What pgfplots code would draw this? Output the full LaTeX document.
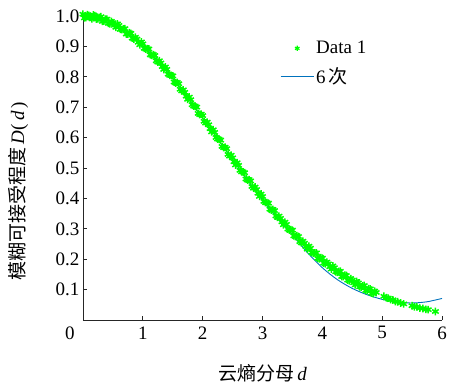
\documentclass[border=0pt]{standalone}
\usepackage{fontspec}
\setmainfont{Liberation Serif}
\newfontfamily\cjk{Noto Sans CJK SC}
\usepackage{pgfplots}
\pgfplotsset{compat=1.18}
\definecolor{mgreen}{rgb}{0,1,0}
\definecolor{mblue}{rgb}{0,0.447,0.741}
\definecolor{axgray}{rgb}{0.15,0.15,0.15}
\newcommand{\fs}{\fontsize{19}{22}\selectfont}
\pgfplotsset{
  dataleg/.style={legend image code/.code={\path[draw=none] (0pt,0pt) -- (33pt,0pt); \draw[##1, mark size=2.6pt, line width=1.2pt] plot[only marks] coordinates {(16.5pt,0pt)};}},
  lineleg/.style={legend image code/.code={\draw[##1] (0pt,0pt) -- (33pt,0pt);}},
  datastyle/.style={only marks, mark=asterisk, mark size=3.8pt, color=mgreen, line width=1.5pt},
}
\begin{document}
\begin{tikzpicture}[font=\fs]
\useasboundingbox (-83pt,-64pt) rectangle (366pt,320pt);
\begin{axis}[
  scale only axis, width=359pt, height=307pt,
  xmin=0, xmax=6, ymin=0, ymax=1.01,
  axis x line=bottom, axis y line=left,
  axis line style={-, draw=axgray, line width=0.8pt},
  xtick={0,1,2,3,4,5,6},
  xticklabels={\makebox[0pt][r]{0\hspace{8.5pt}},1,2,3,4,5,6},
  ytick={0.1,0.2,0.3,0.4,0.5,0.6,0.7,0.8,0.9,1.0},
  yticklabel style={/pgf/number format/.cd, fixed, fixed zerofill, precision=1},
  /pgf/number format/assume math mode=true,
  tick align=inside, major tick length=4pt,
  tick style={draw=axgray, line width=0.8pt},
  tick label style={font=\fs, text=black},
  xticklabel style={yshift=-3pt},
  xlabel={{\cjk 云熵分母}\,\textit{d}},
  ylabel={{\cjk 模糊可接受程度}\,\textit{D}(\,\textit{d}\,)},
  xlabel style={at={(axis description cs:0.5,-0.172)}, anchor=center, font=\fs},
  ylabel style={at={(axis description cs:-0.181,0.42)}, anchor=center, font=\fs},
  legend style={at={(0.549,0.915)}, anchor=north west, draw=none, fill=none,
    font=\fs, row sep=8pt, inner sep=0pt, nodes={inner sep=2pt}, cells={anchor=west}},
]
\addplot[datastyle, dataleg]
  coordinates {
(0.00,1.0060) (0.05,0.9948) (0.10,1.0020) (0.15,0.9907) (0.20,1.0010)
(0.25,0.9907) (0.30,0.9979) (0.35,0.9837) (0.40,0.9899) (0.45,0.9747)
(0.50,0.9780) (0.55,0.9628) (0.60,0.9692) (0.65,0.9551) (0.70,0.9585)
(0.75,0.9406) (0.80,0.9432) (0.85,0.9243) (0.90,0.9241) (0.95,0.9055)
(1.00,0.9086) (1.05,0.8912) (1.10,0.8915) (1.15,0.8705) (1.20,0.8701)
(1.25,0.8485) (1.30,0.8455) (1.35,0.8242) (1.40,0.8247) (1.45,0.8050)
(1.50,0.8030) (1.55,0.7798) (1.60,0.7773) (1.65,0.7537) (1.70,0.7490)
(1.75,0.7260) (1.80,0.7249) (1.85,0.7037) (1.90,0.7004) (1.95,0.6760)
(2.00,0.6725) (2.05,0.6480) (2.10,0.6424) (2.15,0.6188) (2.20,0.6171)
(2.25,0.5954) (2.30,0.5918) (2.35,0.5672) (2.40,0.5636) (2.45,0.5390)
(2.50,0.5335) (2.55,0.5101) (2.60,0.5088) (2.65,0.4876) (2.70,0.4844)
(2.75,0.4604) (2.80,0.4575) (2.85,0.4338) (2.90,0.4292) (2.95,0.4067)
(3.00,0.4064) (3.05,0.3863) (3.10,0.3843) (3.15,0.3615) (3.20,0.3600)
(3.25,0.3376) (3.30,0.3344) (3.35,0.3134) (3.40,0.3146) (3.45,0.2961)
(3.50,0.2957) (3.55,0.2746) (3.60,0.2746) (3.65,0.2539) (3.70,0.2525)
(3.75,0.2332) (3.80,0.2362) (3.85,0.2194) (3.90,0.2208) (3.95,0.2015)
(4.00,0.2034) (4.05,0.1845) (4.10,0.1848) (4.15,0.1673) (4.20,0.1721)
(4.25,0.1571) (4.30,0.1603) (4.35,0.1428) (4.40,0.1464) (4.45,0.1292)
(4.50,0.1313) (4.55,0.1155) (4.60,0.1220) (4.65,0.1086) (4.70,0.1134)
(4.75,0.0974) (4.80,0.1026) (4.85,0.0871) (4.90,0.0906)
(5.03,0.078) (5.07,0.073) (5.10,0.072) (5.14,0.067) (5.18,0.066)
(5.22,0.061) (5.26,0.060) (5.31,0.056) (5.36,0.053)
(5.50,0.047) (5.54,0.043) (5.58,0.043) (5.63,0.039) (5.68,0.038)
(5.73,0.035) (5.77,0.034) (5.89,0.028)
  };
\addlegendentry{Data 1}
\addplot[datastyle, forget plot]
  coordinates {
(0.025,0.9939) (0.075,1.0044) (0.125,0.9954) (0.175,1.0038) (0.225,0.9898)
(0.275,0.9953) (0.325,0.9823) (0.375,0.9898) (0.425,0.9758) (0.475,0.9823)
(0.525,0.9694) (0.575,0.9740) (0.625,0.9561) (0.675,0.9578) (0.725,0.9410)
(0.775,0.9449) (0.825,0.9272) (0.875,0.9302) (0.925,0.9138) (0.975,0.9150)
(1.025,0.8939) (1.075,0.8924) (1.125,0.8725) (1.175,0.8733) (1.225,0.8528)
(1.275,0.8530) (1.325,0.8339) (1.375,0.8325) (1.425,0.8089) (1.475,0.8050)
(1.525,0.7829) (1.575,0.7816) (1.625,0.7590) (1.675,0.7573) (1.725,0.7365)
(1.775,0.7335) (1.825,0.7083) (1.875,0.7031) (1.925,0.6797) (1.975,0.6773)
(2.025,0.6537) (2.075,0.6512) (2.125,0.6296) (2.175,0.6259) (2.225,0.6003)
(2.275,0.5946) (2.325,0.5710) (2.375,0.5684) (2.425,0.5448) (2.475,0.5423)
(2.525,0.5208) (2.575,0.5175) (2.625,0.4922) (2.675,0.4870) (2.725,0.4639)
(2.775,0.4620) (2.825,0.4392) (2.875,0.4375) (2.925,0.4169) (2.975,0.4146)
(3.025,0.3903) (3.075,0.3863) (3.125,0.3644) (3.175,0.3638) (3.225,0.3423)
(3.275,0.3420) (3.325,0.3229) (3.375,0.3220) (3.425,0.2993) (3.475,0.2969)
(3.525,0.2766) (3.575,0.2776) (3.625,0.2578) (3.675,0.2592) (3.725,0.2418)
(3.775,0.2427) (3.825,0.2218) (3.875,0.2211) (3.925,0.2027) (3.975,0.2054)
(4.025,0.1874) (4.075,0.1906) (4.125,0.1751) (4.175,0.1777) (4.225,0.1586)
(4.275,0.1597) (4.325,0.1430) (4.375,0.1476) (4.425,0.1313) (4.475,0.1362)
(4.525,0.1224) (4.575,0.1267) (4.625,0.1093) (4.675,0.1120) (4.725,0.0969)
(4.775,0.1030) (4.825,0.0884) (4.875,0.0948)
  };
\addplot[color=mblue, line width=0.9pt, smooth, lineleg]
  coordinates {
(0.00,0.990) (0.25,0.986) (0.50,0.970) (0.75,0.942) (1.00,0.902)
(1.25,0.852) (1.50,0.795) (1.75,0.731) (2.00,0.664) (2.25,0.596)
(2.50,0.527) (2.75,0.460) (3.00,0.395) (3.25,0.334) (3.50,0.280)
(3.75,0.222) (4.00,0.172) (4.25,0.133) (4.50,0.104) (4.75,0.083)
(5.00,0.068) (5.25,0.059) (5.50,0.056) (5.75,0.060) (6.00,0.071)
  };
\addlegendentry{6\,{\cjk 次}}
\end{axis}
\end{tikzpicture}
\end{document}
